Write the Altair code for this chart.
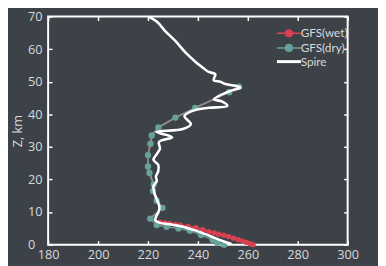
import altair as alt
import pandas as pd

# Spire profile: temperature (K) vs altitude (km)
spire_t = [220.2, 223.5, 227.0, 231.4, 235.0, 239.2, 242.0, 244.3, 247.0, 246.3, 249.0, 251.0,
           255.7, 257.0, 252.3, 246.4, 249.6, 251.8, 244.4, 239.2, 234.6, 237.2, 234.0,
           223.4, 229.7, 224.4, 224.8, 223.7, 222.2, 224.1, 224.1, 223.2, 223.5, 222.2, 222.5,
           223.5, 224.6, 224.2, 223.2, 222.9, 224.8, 228.7, 234.0, 239.2, 244.4, 249.6, 253.5]
spire_z = [70.0, 68.5, 65.5, 62.2, 59.0, 56.0, 54.3, 53.0, 52.3, 50.5, 50.0, 49.3,
           48.6, 48.2, 47.0, 44.6, 44.0, 42.6, 42.0, 41.4, 39.5, 37.0, 35.5,
           34.6, 33.0, 31.5, 29.5, 28.0, 26.0, 24.5, 22.5, 21.0, 19.5, 18.0, 16.0,
           14.0, 11.5, 10.0, 8.5, 7.5, 6.7, 6.3, 5.5, 4.3, 2.8, 1.2, 0.2]

# GFS (dry)
dry_t = [256.5, 252.5, 238.9, 231.0, 224.2, 221.5, 221.0, 220.0, 220.0, 220.6, 222.3, 222.0,
         223.5, 225.8, 220.9, 223.5, 227.5, 232.2, 236.8, 241.3, 245.9, 247.8, 250.5]
dry_z = [48.5, 46.8, 42.0, 39.0, 36.0, 33.5, 31.0, 27.5, 24.0, 22.0, 18.5, 16.5,
         13.5, 11.3, 8.0, 6.0, 5.5, 5.0, 4.3, 3.0, 1.5, 0.5, 0.0]

# GFS (wet)
wet_t = [256.5, 252.5, 238.9, 231.0, 224.2, 221.5, 221.0, 220.0, 220.0, 220.6, 222.3, 222.0,
         223.5, 225.8, 220.9, 224.8, 226.8, 228.7, 231.0, 233.0, 236.0, 239.2, 242.0, 244.4,
         246.5, 248.3, 250.3, 252.3, 254.3, 256.2, 258.0, 259.5, 261.0, 262.1]
wet_z = [48.5, 46.8, 42.0, 39.0, 36.0, 33.5, 31.0, 27.5, 24.0, 22.0, 18.5, 16.5,
         13.5, 11.3, 8.0, 6.9, 6.7, 6.5, 6.2, 6.0, 5.6, 5.2, 4.6, 4.0,
         3.6, 3.2, 2.9, 2.5, 2.0, 1.5, 1.1, 0.7, 0.3, 0.0]

series_names = ["GFS(wet)", "GFS(dry)", "Spire"]
series_colors = ["#d8414f", "#66a39a", "#ffffff"]
x_ticks = [180, 200, 220, 240, 260, 280, 300]
y_ticks = [0, 10, 20, 30, 40, 50, 60, 70]

W, H = 306, 233
BG = "#3d4248"
LBL = "#d6d9dc"
FONT = "Open Sans"


def frame(t, z, name):
    return pd.DataFrame({"T": t, "Z": z, "s": name, "i": list(range(len(t)))})


wet = frame(wet_t, wet_z, "GFS(wet)")
dry = frame(dry_t, dry_z, "GFS(dry)")
spire = frame(spire_t, spire_z, "Spire")

marker_path = "M-1,0H1M0.28,0A0.28,0.28,0,1,1,-0.28,0A0.28,0.28,0,1,1,0.28,0Z"
legend = alt.Legend(
    title=None, orient="none", legendX=240, legendY=11,
    symbolSize=600, labelFont="Lato", labelFontSize=12, labelColor=LBL,
    labelOffset=6, rowPadding=1,
    symbolType={"expr": "datum.value === 'Spire' ? 'M-1,0H1' : '" + marker_path + "'"},
    symbolFillColor={"expr": "datum.value === 'Spire' ? 'transparent' : scale('color', datum.value)"},
    symbolStrokeColor={"expr": "scale('color', datum.value)"},
    symbolStrokeWidth={"expr": "datum.value === 'Spire' ? 3 : 1.5"},
    symbolOpacity=1,
)
color = alt.Color("s:N", scale=alt.Scale(domain=series_names, range=series_colors), legend=legend)

xs = alt.Scale(domain=[180, 300], nice=False)
ys = alt.Scale(domain=[0, 70], nice=False)

tick_common = dict(labels=False, domain=False, grid=False, title=None,
                   tickSize=4, tickWidth=1.5, tickColor="#ffffff")

ax_x_lab = alt.Axis(orient="bottom", values=x_ticks, tickSize=0, ticks=False, domain=False,
                    grid=False, labelPadding=4, labelFlush=False, labelFont=FONT,
                    labelFontSize=13, labelColor=LBL, title=None)
ax_y_lab = alt.Axis(orient="left", values=y_ticks, tickSize=0, ticks=False, domain=False,
                    grid=False, labelPadding=21, labelAlign="left", labelFlush=False,
                    labelFont=FONT, labelFontSize=13, labelColor=LBL, title="Z, km",
                    titleFont=FONT, titleFontSize=13, titleColor=LBL, titleFontWeight="normal",
                    titleX=-31, titleY=H / 2, titleAngle=-90, titleAlign="center",
                    titleBaseline="middle")
ax_x_in_bottom = alt.Axis(orient="top", offset=-H, values=x_ticks, **tick_common)
ax_x_in_top = alt.Axis(orient="bottom", offset=-H, values=x_ticks, **tick_common)
ax_y_in_left = alt.Axis(orient="right", offset=-W, values=y_ticks, **tick_common)
ax_y_in_right = alt.Axis(orient="left", offset=-W, values=y_ticks, **tick_common)


def enc(chart, xa, ya):
    return chart.encode(
        x=alt.X("T:Q", scale=xs, axis=xa),
        y=alt.Y("Z:Q", scale=ys, axis=ya),
        color=color,
        order="i:Q",
    )


wet_line = enc(alt.Chart(wet).mark_line(strokeWidth=2), ax_x_lab, ax_y_lab)
wet_pts = enc(alt.Chart(wet).mark_point(filled=True, size=30, opacity=1), ax_x_in_bottom, ax_y_in_left)
dry_line = enc(alt.Chart(dry).mark_line(strokeWidth=1.5), ax_x_in_top, ax_y_in_right)
dry_pts = enc(alt.Chart(dry).mark_point(filled=True, size=42, opacity=1), None, None)
spire_line = enc(alt.Chart(spire).mark_line(strokeWidth=2.6, interpolate="catmull-rom"), None, None)

chart = alt.layer(wet_line, wet_pts, dry_line, dry_pts, spire_line).resolve_axis(
    x="independent", y="independent"
).properties(
    width=W, height=H,
    background=BG,
    padding={"left": 41, "top": 6, "right": 31, "bottom": 19},
    autosize=alt.AutoSizeParams(type="none"),
).configure_view(stroke="#ffffff", strokeWidth=2)

chart.save("out.html", embed_options={"renderer": "svg", "actions": False})
